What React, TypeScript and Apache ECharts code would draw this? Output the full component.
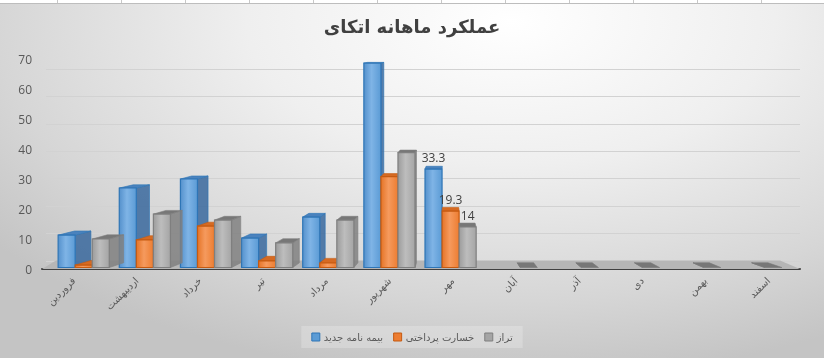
import React, { useEffect, useRef } from "react";
import * as echarts from "echarts";

const categories = ["فروردین", "اردیبهشت", "خرداد", "تیر", "مرداد", "شهریور", "مهر", "آبان", "آذر", "دی", "بهمن", "اسفند"];
const seriesNames = ["بیمه نامه جدید", "خسارت پرداختی", "تراز"];
const newPolicies: (number | null)[] = [11.3, 27, 30, 10.3, 17.3, 68.6, 33.3, null, null, null, null, null];
const claimsPaid: (number | null)[] = [1.3, 9.7, 14.3, 2.7, 2, 30.8, 19.3, null, null, null, null, null];
const balance: (number | null)[] = [10, 18.3, 16.3, 8.7, 16.3, 38.8, 14, 0, 0, 0, 0, 0];
const labeledMonth = "مهر";
const yMax = 70;
const yStep = 10;

const title = "عملکرد ماهانه اتکای";

const W = 824;
const H = 358;
const GRID_L = 42;
const GRID_R = 24;
const GRID_TOP = 59;
const GRID_BOTTOM = 89;
const VX = 450; // horizontal vanishing point
const HY = 20; // horizon

const palette = [
  { front: ["#5591cc", "#7fb4e6", "#5b9bd5"], stroke: "#2e75b6", side: "rgba(58,104,158,0.85)", top: "#4a82bd" },
  { front: ["#e57427", "#f59a5e", "#ed7d31"], stroke: "#c55a11", side: "rgba(184,90,28,0.85)", top: "#d66a22" },
  { front: ["#9c9c9c", "#bdbdbd", "#a5a5a5"], stroke: "#7f7f7f", side: "rgba(128,128,128,0.85)", top: "#777777" },
];

function makeRender(si: number) {
  const c = palette[si];
  return (params: any, api: any) => {
    const idx = api.value(0);
    const val = api.value(1);
    if (isNaN(val)) return null;
    const base = api.coord([idx, 0]);
    const topPt = api.coord([idx, val]);
    const catW = api.size([1, 0])[0];
    const barW = catW * 0.27;
    const shift = (390 - base[0]) * 0.032;
    const L = base[0] + (si - 1.5) * barW + shift;
    const R = L + barW;
    const B = base[1] - 1.5;
    const T = Math.min(topPt[1], B);
    const dx = (x: number) => (VX - x) * 0.042;
    const dy = (y: number) => (HY - y) * 0.019;
    const children: any[] = [];
    const dT = dy(T);
    const dB = dy(B);
    const dxR = dx(R);
    const dxL = dx(L);
    if (dxR > 0.4) {
      children.push({
        type: "polygon",
        shape: { points: [[R, T], [R + dxR, T + dT], [R + dxR, B + dB], [R, B]] },
        style: { fill: c.side, stroke: c.stroke, lineWidth: 0.6 },
      });
    }
    if (dxL < -0.4) {
      children.push({
        type: "polygon",
        shape: { points: [[L, T], [L + dxL, T + dT], [L + dxL, B + dB], [L, B]] },
        style: { fill: c.side, stroke: c.stroke, lineWidth: 0.6 },
      });
    }
    children.push({
      type: "polygon",
      shape: { points: [[L, T], [R, T], [R + dxR, T + dT], [L + dxL, T + dT]] },
      style: { fill: c.top, stroke: B - T < 1 ? c.top : c.stroke, lineWidth: 0.6 },
    });
    if (B - T >= 1) {
      children.push({
        type: "rect",
        shape: { x: L, y: T, width: barW, height: B - T },
        style: {
          fill: new echarts.graphic.LinearGradient(0, 0, 1, 0, [
            { offset: 0, color: c.front[0] },
            { offset: 0.45, color: c.front[1] },
            { offset: 1, color: c.front[2] },
          ]),
          stroke: c.stroke,
          lineWidth: 1.2,
        },
      });
    }
    if (categories[idx] === labeledMonth) {
      children.push({
        type: "text",
        x: (L + R) / 2,
        y: T - 12,
        style: {
          text: String(val),
          fill: "#404040",
          font: "12px 'Open Sans', sans-serif",
          align: "center",
          verticalAlign: "middle",
        },
      });
    }
    return { type: "group", children };
  };
}

const seriesData = [newPolicies, claimsPaid, balance];

export default function App() {
  const ref = useRef<HTMLDivElement>(null);
  useEffect(() => {
    document.body.style.margin = "0";
    const chart = echarts.init(ref.current!, null, { renderer: "svg" });
    const cellLines: any[] = [];
    for (let x = 57; x < W; x += 64) {
      cellLines.push({ type: "line", shape: { x1: x + 0.5, y1: 0, x2: x + 0.5, y2: 3 }, style: { stroke: "#c8c8c8", lineWidth: 1 }, z: 5 });
    }
    const floorFrontY = H - GRID_BOTTOM;
    const floorBackY = floorFrontY - 8.5;
    chart.setOption({
      animation: false,
      backgroundColor: "transparent",
      title: {
        text: title,
        left: "center",
        top: 12,
        textStyle: { fontFamily: "'DejaVu Sans', sans-serif", fontSize: 18, fontWeight: "bold", color: "#404040" },
      },
      legend: {
        left: "center",
        top: 326,
        padding: [6, 10, 6, 10],
        backgroundColor: "rgba(255,255,255,0.22)",
        itemWidth: 8,
        itemHeight: 8,
        itemGap: 10,
        icon: "rect",
        textStyle: { fontFamily: "'DejaVu Sans', sans-serif", fontSize: 10, color: "#595959", padding: [0, 0, 0, -1] },
        data: seriesNames.map((n, i) => ({ name: n, itemStyle: { color: palette[i].front[2], borderColor: palette[i].stroke, borderWidth: 1 } })),
      },
      grid: [
        { left: GRID_L, right: GRID_R, top: GRID_TOP, bottom: GRID_BOTTOM },
        { left: GRID_L + 4, right: GRID_R, top: GRID_TOP + 10, bottom: GRID_BOTTOM + 8 },
      ],
      xAxis: [
        {
          type: "category",
          gridIndex: 0,
          data: categories,
          axisLine: { show: true, lineStyle: { color: "#404040", width: 2 } },
          axisTick: { show: false },
          axisLabel: {
            rotate: 45,
            margin: 10,
            fontFamily: "'DejaVu Sans', sans-serif",
            fontSize: 10,
            color: "#595959",
            interval: 0,
          },
        },
        { type: "category", gridIndex: 1, data: categories, show: false },
      ],
      yAxis: [
        {
          type: "value",
          gridIndex: 0,
          min: 0,
          max: yMax,
          interval: yStep,
          axisLine: { show: false },
          axisTick: { show: false },
          splitLine: { show: false },
          axisLabel: { margin: 10, fontFamily: "'Open Sans', sans-serif", fontSize: 12, color: "#595959" },
        },
        {
          type: "value",
          gridIndex: 1,
          min: 0,
          max: yMax,
          interval: yStep,
          axisLine: { show: false },
          axisTick: { show: false },
          axisLabel: { show: false },
          splitLine: { show: true, lineStyle: { color: "#d2d2d2", width: 1 } },
        },
      ],
      graphic: [
        { type: "rect", shape: { x: 0, y: 0, width: W, height: 3 }, style: { fill: "#ffffff" }, z: 4 },
        { type: "line", shape: { x1: 0, y1: 3.5, x2: W, y2: 3.5 }, style: { stroke: "#bdbdbd", lineWidth: 1 }, z: 5 },
        ...cellLines,
        {
          type: "polygon",
          shape: {
            points: [
              [GRID_L, floorFrontY],
              [W - GRID_R, floorFrontY],
              [W - GRID_R - 20, floorBackY],
              [GRID_L + 14, floorBackY],
            ],
          },
          style: { fill: "#b6b6b6" },
          z: 1,
        },
      ],
      series: seriesNames.map((name, si) => ({
        name,
        type: "custom",
        xAxisIndex: 0,
        yAxisIndex: 0,
        z: 3 + si,
        itemStyle: { color: palette[si].front[2], borderColor: palette[si].stroke },
        renderItem: makeRender(si),
        encode: { x: 0, y: 1 },
        data: seriesData[si]
          .map((v, i) => (v === null ? null : [i, v]))
          .filter((d) => d !== null),
      })),
    });
    return () => chart.dispose();
  }, []);
  return (
    <div
      ref={ref}
      style={{
        position: "fixed",
        left: 0,
        top: 0,
        width: W,
        height: H,
        background:
          "radial-gradient(ellipse 80% 100% at 62% 6%, #ffffff 0%, #efefef 40%, #d6d6d6 78%, #c4c4c4 100%)",
      }}
    />
  );
}
